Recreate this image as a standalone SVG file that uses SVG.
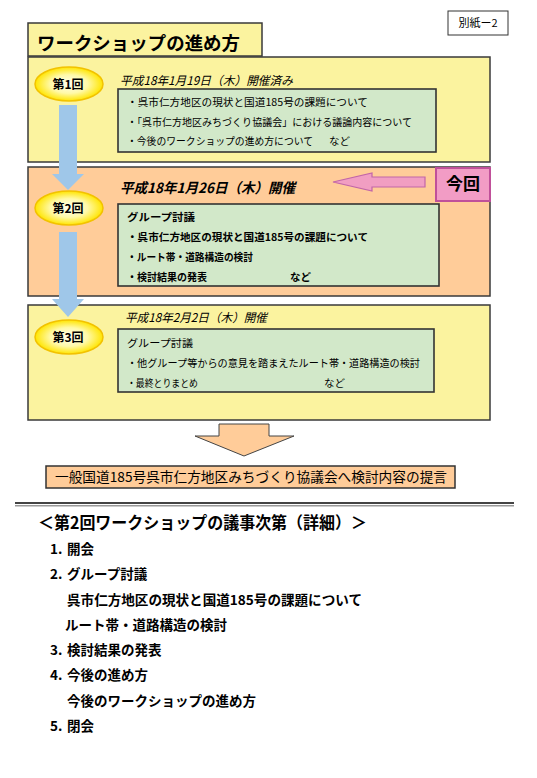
<svg xmlns="http://www.w3.org/2000/svg" width="537" height="778" viewBox="0 0 537 778">
<defs>
<style>
text{font-family:"Noto Sans CJK JP","Noto Sans",sans-serif;fill:#000}
.sec{stroke:#3a3a3a;stroke-width:1.5}
.y{fill:#FBF39F}
.o{fill:#FFCC99}
.g{fill:#D2E8C9;stroke:#333;stroke-width:1.6}
.gt{font-size:10.5px}
.gb{font-size:10.5px;font-weight:bold}
.ov{fill:url(#og);stroke:#F2C200;stroke-width:1.5}
.ol{font-size:12px;font-weight:bold;text-anchor:middle}
.blue{fill:#9FC7E9}
.it{font-style:italic}
.h{font-size:13.5px;font-weight:bold}
</style>
<radialGradient id="og" cx="50%" cy="50%" r="50%">
<stop offset="0" stop-color="#FFFFF2"/>
<stop offset="0.55" stop-color="#FFF9A8"/>
<stop offset="1" stop-color="#FFE500"/>
</radialGradient>
</defs>

<g id="annex">
<rect x="448" y="11" width="60" height="24" fill="#fff" stroke="#333" stroke-width="1"/>
<text x="478" y="27" font-size="11" text-anchor="middle">別紙ー2</text>
</g>

<g id="title">
<rect x="28" y="23" width="234" height="33" class="y sec"/>
<text x="37" y="50" font-size="18.5" font-weight="bold" textLength="203" lengthAdjust="spacingAndGlyphs">ワークショップの進め方</text>
</g>

<g id="session1">
<rect x="28" y="57" width="462" height="105" class="y sec"/>
<text x="120" y="85" font-size="12" class="it" textLength="173" lengthAdjust="spacingAndGlyphs">平成18年1月19日（木）開催済み</text>
<rect x="118" y="89" width="318" height="63" class="g"/>
<text x="127" y="106" class="gt" textLength="241" lengthAdjust="spacingAndGlyphs">・呉市仁方地区の現状と国道185号の課題について</text>
<text x="127" y="126" class="gt" textLength="285" lengthAdjust="spacingAndGlyphs">・「呉市仁方地区みちづくり協議会」における議論内容について</text>
<text x="127" y="145" class="gt" textLength="186" lengthAdjust="spacingAndGlyphs">・今後のワークショップの進め方について</text>
<text x="329" y="145" class="gt">など</text>
</g>

<g id="session2">
<rect x="28" y="167" width="462" height="129" class="o sec"/>
<text x="120" y="193" font-size="14" font-weight="bold" class="it" textLength="175" lengthAdjust="spacingAndGlyphs">平成18年1月26日（木）開催</text>
<rect x="118" y="204" width="321" height="82" class="g"/>
<text x="127" y="221" class="gb" textLength="68" lengthAdjust="spacingAndGlyphs">グループ討議</text>
<text x="127" y="241" class="gb" textLength="241" lengthAdjust="spacingAndGlyphs">・呉市仁方地区の現状と国道185号の課題について</text>
<text x="127" y="261" class="gb" textLength="126" lengthAdjust="spacingAndGlyphs">・ルート帯・道路構造の検討</text>
<text x="127" y="281" class="gb" textLength="80" lengthAdjust="spacingAndGlyphs">・検討結果の発表</text>
<text x="290" y="281" class="gb">など</text>
</g>

<g id="current">
<rect x="436" y="168" width="54" height="33" fill="#F29CC5" stroke="#C0509A" stroke-width="2"/>
<text x="463" y="190" font-size="17" font-weight="bold" text-anchor="middle">今回</text>
</g>

<g id="session3">
<rect x="28" y="305" width="462" height="115" class="y sec"/>
<text x="125" y="322" font-size="12" class="it" textLength="142" lengthAdjust="spacingAndGlyphs">平成18年2月2日（木）開催</text>
<rect x="118" y="329" width="316" height="63" class="g"/>
<text x="127" y="347" class="gt" textLength="66" lengthAdjust="spacingAndGlyphs">グループ討議</text>
<text x="127" y="367" class="gt" textLength="293" lengthAdjust="spacingAndGlyphs">・他グループ等からの意見を踏まえたルート帯・道路構造の検討</text>
<text x="127" y="387" class="gt" textLength="71" lengthAdjust="spacingAndGlyphs">・最終とりまとめ</text>
<text x="324" y="387" class="gt">など</text>
</g>

<g id="connectors">
<polygon class="blue" points="59,105 77,105 77,174 84,174 68,190 52,174 59,174"/>
<polygon class="blue" points="59,232 77,232 77,299 84,299 68,317 52,299 59,299"/>
<polygon points="425,177 372,177 372,173 333,182 372,191 372,187 425,187" fill="#F19EC2" stroke="#C266A8" stroke-width="1.2"/>
<polygon points="219,424 269,424 269,436 294,436 244,456 195,436 219,436" fill="#FFCC99" stroke="#444" stroke-width="1"/>
</g>

<g id="badge1">
<ellipse cx="69" cy="84" rx="34" ry="17" class="ov"/>
<text x="68" y="88.5" class="ol">第1回</text>
</g>
<g id="badge2">
<ellipse cx="69" cy="208" rx="34" ry="17" class="ov"/>
<text x="68" y="212.5" class="ol">第2回</text>
</g>
<g id="badge3">
<ellipse cx="69" cy="337" rx="34" ry="17" class="ov"/>
<text x="68" y="341.5" class="ol">第3回</text>
</g>

<g id="proposal">
<rect x="46" y="466" width="409" height="22" fill="#FFCC99" stroke="#333" stroke-width="1.5"/>
<text x="55" y="482" font-size="13.5" textLength="392" lengthAdjust="spacingAndGlyphs">一般国道185号呉市仁方地区みちづくり協議会へ検討内容の提言</text>
</g>

<g id="divider">
<rect x="15" y="502" width="499" height="2" fill="#444"/>
<rect x="15" y="505" width="499" height="1.5" fill="#999"/>
</g>

<g id="agenda">
<text x="38" y="529" font-size="16.5" font-weight="bold" textLength="329" lengthAdjust="spacingAndGlyphs">＜第2回ワークショップの議事次第（詳細）＞</text>
<text y="554" class="h"><tspan x="50">1.</tspan><tspan x="67">開会</tspan></text>
<text y="579" class="h"><tspan x="50">2.</tspan><tspan x="67">グループ討議</tspan></text>
<text x="67" y="605" class="h" textLength="295" lengthAdjust="spacingAndGlyphs">呉市仁方地区の現状と国道185号の課題について</text>
<text x="65" y="630" class="h">ルート帯・道路構造の検討</text>
<text y="655" class="h"><tspan x="50">3.</tspan><tspan x="67">検討結果の発表</tspan></text>
<text y="680" class="h"><tspan x="50">4.</tspan><tspan x="67">今後の進め方</tspan></text>
<text x="67" y="706" class="h">今後のワークショップの進め方</text>
<text y="731" class="h"><tspan x="50">5.</tspan><tspan x="67">閉会</tspan></text>
</g>
</svg>
